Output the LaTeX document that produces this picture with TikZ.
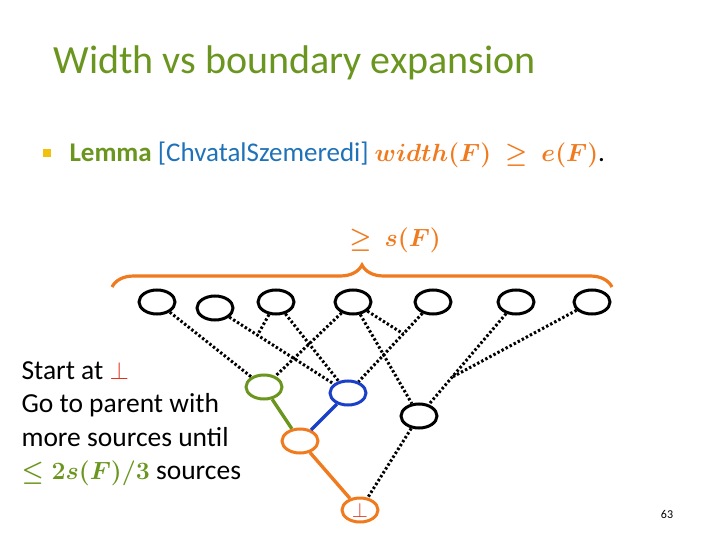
\documentclass[tikz,border=0pt]{standalone}
\usepackage{amsmath}
\usepackage{fontspec}
\setmainfont{Carlito}
\usetikzlibrary{decorations.pathreplacing,shapes.geometric}
\definecolor{tgreen}{HTML}{6A961F}
\definecolor{torange}{HTML}{F07A1E}
\definecolor{tblue}{HTML}{1F72B8}
\definecolor{nblue}{HTML}{1A3FC8}
\definecolor{tred}{HTML}{E0301E}
\definecolor{tyellow}{HTML}{F2C10E}
\begin{document}
\begin{tikzpicture}[x=1pt,y=-1pt,
  v/.style={draw=black,line width=3pt,ellipse,minimum width=36pt,minimum height=24pt,inner sep=0pt},
  dot/.style={line width=3pt,line cap=butt,dash pattern=on 2.4pt off 2.2pt},
  tree/.style={line width=3.4pt}]
\useasboundingbox (0,0) rectangle (720,540);
\node[anchor=west,text=tgreen,font=\fontsize{40}{44}\selectfont] (title) at (50,63) {Width vs boundary expansion};
\node[fill=tyellow,minimum size=8pt,inner sep=0pt] (bul) at (47,153) {};
\node[anchor=west,font=\fontsize{27}{30}\selectfont] (lem) at (66,155) {\textcolor{tgreen}{\bfseries Lemma} \textcolor{tblue}{[ChvatalSzemeredi]}\hspace{6pt}\textcolor{torange}{$\boldsymbol{width(F)\ \geq\ e(F)}$}.};
\coordinate (bl) at (112,287);
\coordinate (br) at (612,287);
\draw[torange,line width=3.2pt,decorate,decoration={brace,amplitude=22pt}] (bl) -- (br);
\node[text=torange,font=\fontsize{23}{26}\selectfont] (sf) at (395,240) {$\boldsymbol{\geq\ s(F)}$};
\node[v] (t1) at (157,302) {};
\node[v] (t2) at (215,308) {};
\node[v] (t3) at (276,302) {};
\node[v] (t4) at (353,302) {};
\node[v] (t5) at (433,302) {};
\node[v] (t6) at (516,302) {};
\node[v] (t7) at (592,302) {};
\node[v,draw=tgreen] (g) at (264,387) {};
\node[v,draw=nblue] (b) at (348,393) {};
\node[v,draw=torange] (o) at (300,441) {};
\node[v] (r) at (419,416) {};
\node[v,draw=torange] (bot) at (360,510) {\textcolor{tred}{\fontsize{22}{22}\selectfont$\bot$}};
\draw[dot] (t1) -- (g);
\draw[dot] (t4) -- (g);
\draw[dot] (t2) -- coordinate[pos=0.27] (m2) (b);
\draw[dot] (t3) -- (m2);
\draw[dot] (t3) -- (b);
\draw[dot] (t5) -- coordinate[pos=0.3] (m5) (b);
\draw[dot] (t4) -- (m5);
\draw[dot] (t4) -- (r);
\draw[dot] (t6) -- coordinate[pos=0.7] (m6) (r);
\draw[dot] (t7) -- (m6);
\draw[dot] (r) -- (bot);
\draw[tree,tgreen] (g) -- (o);
\draw[tree,nblue] (b) -- (o);
\draw[tree,torange] (o) -- (bot);
\node[anchor=north west,align=left,font=\fontsize{27.5}{33.5}\selectfont] (txt) at (18,358) {Start at \textcolor{tred}{$\bot$}\\Go to parent with\\more sources until\\\textcolor{tgreen}{$\boldsymbol{\leq 2s(F)/3}$} sources};
\node[font=\fontsize{12}{12}\selectfont] (pg) at (667,514) {63};
\end{tikzpicture}
\end{document}
